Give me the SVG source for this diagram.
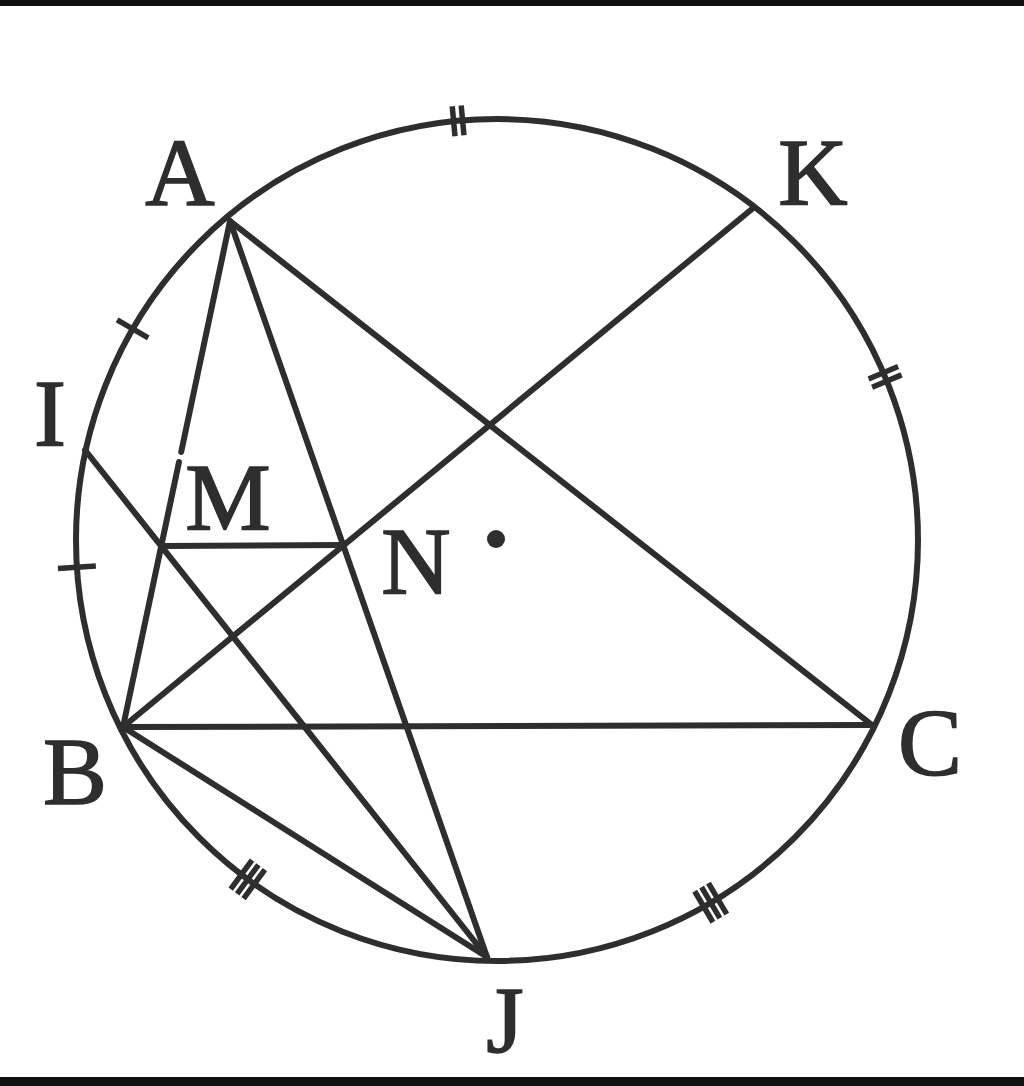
<svg xmlns="http://www.w3.org/2000/svg" width="1024" height="1086" viewBox="0 0 1024 1086">
<style>
.ln{stroke:#2e2e2e;stroke-width:6;fill:none;stroke-linecap:round}
.tk{stroke:#2e2e2e;stroke-width:5.5;fill:none}
.lb{font-family:"Liberation Serif","Times New Roman",serif;font-size:96px;fill:#2e2e2e;stroke:#2e2e2e;stroke-width:1.6;text-anchor:middle}
</style>
<rect x="0" y="0" width="1024" height="1086" fill="#ffffff"/>
<rect x="0" y="0" width="1024" height="6" fill="#111"/>
<rect x="0" y="1077" width="1024" height="9" fill="#111"/>
<g id="circle">
<circle cx="497" cy="540" r="421" class="ln"/>
<circle cx="496" cy="539" r="9" fill="#2e2e2e"/>
</g>
<g id="connectors">
<path class="ln" d="M230,221 L181.2,452 M179,462 L123,727"/>
<line class="ln" x1="230" y1="221" x2="487" y2="957"/>
<line class="ln" x1="230" y1="221" x2="872" y2="725"/>
<line class="ln" x1="752" y1="209" x2="123" y2="727"/>
<line class="ln" x1="85" y1="450" x2="487" y2="957"/>
<line class="ln" x1="123" y1="727" x2="872" y2="725"/>
<line class="ln" x1="123" y1="727" x2="487" y2="957"/>
<line class="ln" x1="161" y1="546" x2="343" y2="545"/>
</g>
<g id="ticks">
<g transform="translate(458.1,120.8) rotate(-95.3)"><line class="tk" x1="-15" y1="-4.5" x2="15" y2="-4.5"/><line class="tk" x1="-15" y1="4.5" x2="15" y2="4.5"/></g>
<g transform="translate(885.1,376.9) rotate(-22.8)"><line class="tk" x1="-16" y1="-4.5" x2="16" y2="-4.5"/><line class="tk" x1="-16" y1="4.5" x2="16" y2="4.5"/></g>
<g transform="translate(132.7,328.9) rotate(210.1)"><line class="tk" x1="-18" y1="0" x2="18" y2="0"/></g>
<g transform="translate(76.9,567.2) rotate(176.3)"><line class="tk" x1="-19" y1="0" x2="19" y2="0"/></g>
<g transform="translate(247.8,879.3) rotate(126.3)"><line class="tk" x1="-18" y1="-8" x2="18" y2="-8"/><line class="tk" x1="-18" y1="0" x2="18" y2="0"/><line class="tk" x1="-18" y1="8" x2="18" y2="8"/></g>
<g transform="translate(710.7,902.7) rotate(59.5)"><line class="tk" x1="-18" y1="-8" x2="18" y2="-8"/><line class="tk" x1="-18" y1="0" x2="18" y2="0"/><line class="tk" x1="-18" y1="8" x2="18" y2="8"/></g>
</g>
<g id="node-A"><text class="lb" x="180" y="205">A</text></g>
<g id="node-K"><text class="lb" x="813" y="205">K</text></g>
<g id="node-I"><text class="lb" x="50" y="446">I</text></g>
<g id="node-M"><text class="lb" x="228" y="530">M</text></g>
<g id="node-N"><text class="lb" x="416" y="594">N</text></g>
<g id="node-B"><text class="lb" x="75" y="804">B</text></g>
<g id="node-C"><text class="lb" x="930" y="775">C</text></g>
<g id="node-J"><text class="lb" x="505" y="1053">J</text></g>
</svg>
